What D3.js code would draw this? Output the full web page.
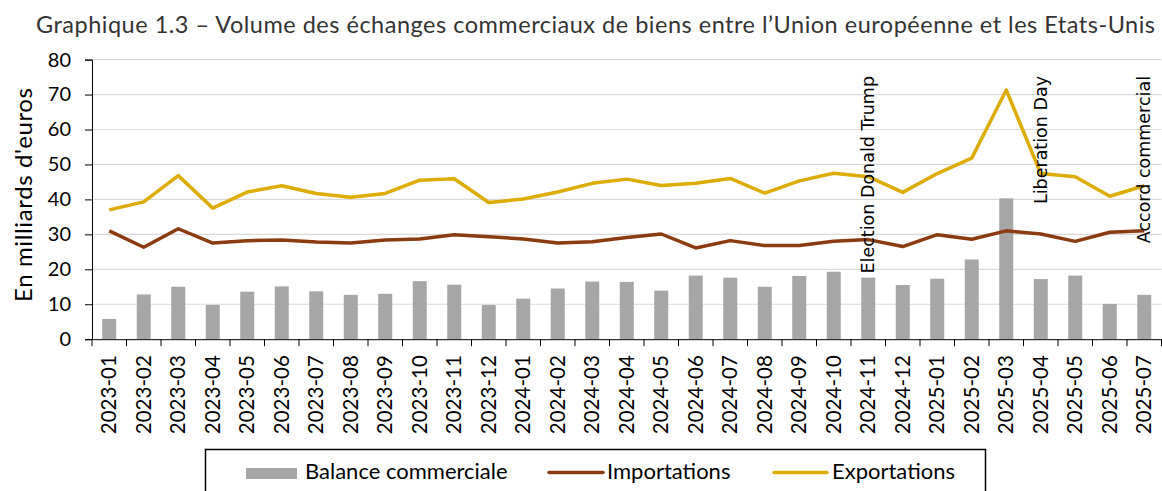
<!DOCTYPE html>
<html>
<head>
<meta charset="utf-8">
<script src="https://cdnjs.cloudflare.com/ajax/libs/d3/7.8.5/d3.min.js"></script>
<style>
  body { margin: 0; background: #fff; }
  svg { display: block; }
</style>
</head>
<body>
<script>
var width = 1162; var height = 491;
var xLeft = 92, xRight = 1161.5, yTop = 59.6, yBottom = 339.2;

// donnees (milliards d'euros)
var mois = ["2023-01","2023-02","2023-03","2023-04","2023-05","2023-06","2023-07","2023-08","2023-09","2023-10","2023-11","2023-12",
            "2024-01","2024-02","2024-03","2024-04","2024-05","2024-06","2024-07","2024-08","2024-09","2024-10","2024-11","2024-12",
            "2025-01","2025-02","2025-03","2025-04","2025-05","2025-06","2025-07"];
var balance = [5.8, 12.8, 15.0, 9.8, 13.6, 15.1, 13.7, 12.7, 13.0, 16.6, 15.6, 9.8,
               11.6, 14.5, 16.5, 16.4, 13.9, 18.2, 17.6, 15.0, 18.1, 19.3, 17.6, 15.5,
               17.3, 22.8, 40.3, 17.2, 18.2, 10.1, 12.7];
var importations = [31.0, 26.3, 31.6, 27.5, 28.2, 28.4, 27.8, 27.5, 28.4, 28.7, 29.9, 29.3,
                    28.7, 27.5, 27.9, 29.1, 30.1, 26.1, 28.2, 26.8, 26.8, 28.0, 28.5, 26.5,
                    29.9, 28.6, 31.0, 30.1, 28.0, 30.6, 31.0];
var exportations = [37.0, 39.3, 46.8, 37.5, 42.1, 43.9, 41.7, 40.6, 41.7, 45.5, 45.9, 39.1,
                    40.1, 42.1, 44.6, 45.8, 44.0, 44.6, 46.0, 41.8, 45.3, 47.5, 46.5, 42.0,
                    47.4, 51.8, 71.3, 47.4, 46.5, 40.9, 43.9];
var yTicks = [0, 10, 20, 30, 40, 50, 60, 70, 80];
var evenements = [{mois: "2024-11", texte: "Election Donald Trump"},
                  {mois: "2025-04", texte: "Liberation Day"},
                  {mois: "2025-07", texte: "Accord commercial"}];
var legende = ["Balance commerciale", "Importations", "Exportations"];

var gris = "#a6a6a6", brun = "#8a3b0f", jaune = "#ddac00";
var police = "Lato, 'Open Sans', sans-serif";

var canvas = d3.select("body").append("svg")
  .attr("width", width)
  .attr("height", height);

var xScale = d3.scaleBand().domain(mois).range([xLeft, xRight]).padding(0);
var yScale = d3.scaleLinear().domain([0, 80]).range([yBottom, yTop]);

// titre
canvas.append("text")
  .attr("x", 36).attr("y", 33)
  .attr("textLength", 1119).attr("lengthAdjust", "spacing")
  .attr("font-family", police).attr("font-size", 23.5)
  .attr("fill", "#333")
  .text("Graphique 1.3 \u2013 Volume des \u00e9changes commerciaux de biens entre l\u2019Union europ\u00e9enne et les Etats-Unis");

// grille
canvas.append("g").selectAll("line")
  .data(yTicks.slice(1))
  .enter().append("line")
  .attr("x1", xLeft).attr("x2", xRight)
  .attr("y1", function(d) { return yScale(d); })
  .attr("y2", function(d) { return yScale(d); })
  .attr("stroke", "#d9d9d9").attr("stroke-width", 1.2);

// barres
canvas.append("g").selectAll("rect")
  .data(balance)
  .enter().append("rect")
  .attr("x", function(d, i) { return xScale(mois[i]) + xScale.bandwidth() / 2 - 7; })
  .attr("width", 14)
  .attr("y", function(d) { return yScale(d); })
  .attr("height", function(d) { return yScale(0) - yScale(d); })
  .attr("fill", gris);

var line = d3.line()
  .x(function(d, i) { return xScale(mois[i]) + xScale.bandwidth() / 2; })
  .y(function(d) { return yScale(d); });

canvas.append("path")
  .attr("d", line(importations))
  .attr("fill", "none").attr("stroke", brun).attr("stroke-width", 3.5).attr("stroke-linejoin", "round");
canvas.append("path")
  .attr("d", line(exportations))
  .attr("fill", "none").attr("stroke", jaune).attr("stroke-width", 3.5).attr("stroke-linejoin", "round");

// axes
var yAxis = d3.axisLeft(yScale).tickValues(yTicks).tickSize(7).tickPadding(14);
var gy = canvas.append("g")
  .attr("transform", "translate(" + xLeft + ",0)")
  .call(yAxis);
gy.selectAll("text").attr("font-family", police).attr("font-size", 20).attr("fill", "#000");
gy.selectAll("line, path").attr("stroke", "#000");

var xAxis = d3.axisBottom(xScale).tickSize(0).tickPadding(0);
var gx = canvas.append("g")
  .attr("transform", "translate(0," + yBottom + ")")
  .call(xAxis);
gx.select("path").attr("stroke", "#000");
gx.selectAll("text")
  .attr("font-family", police).attr("font-size", 20.5).attr("fill", "#000")
  .attr("text-anchor", "end")
  .attr("dy", null)
  .attr("transform", "translate(7,16) rotate(-90)");
// petits traits entre les mois
gx.append("g").selectAll("line")
  .data(mois.concat(["fin"]))
  .enter().append("line")
  .attr("x1", function(d, i) { return xLeft + i * xScale.bandwidth(); })
  .attr("x2", function(d, i) { return xLeft + i * xScale.bandwidth(); })
  .attr("y1", 0).attr("y2", 7)
  .attr("stroke", "#000");

// titre de l'axe y
canvas.append("text")
  .attr("transform", "translate(32,195) rotate(-90)")
  .attr("text-anchor", "middle")
  .attr("textLength", 214).attr("lengthAdjust", "spacing")
  .attr("font-family", police).attr("font-size", 24)
  .text("En milliards d'euros");

// evenements
canvas.append("g").selectAll("text")
  .data(evenements)
  .enter().append("text")
  .attr("transform", function(d) {
    return "translate(" + (xScale(d.mois) + xScale.bandwidth() / 2 + 6) + ",76) rotate(-90)";
  })
  .attr("text-anchor", "end")
  .attr("font-family", "'DejaVu Sans', sans-serif").attr("font-size", 17.5)
  .text(function(d) { return d.texte; });

// legende
var leg = canvas.append("g");
leg.append("rect")
  .attr("x", 205.5).attr("y", 449.5).attr("width", 780).attr("height", 60)
  .attr("fill", "none").attr("stroke", "#000").attr("stroke-width", 1.5);
leg.append("rect")
  .attr("x", 246).attr("y", 468).attr("width", 51).attr("height", 11).attr("fill", gris);
leg.append("line")
  .attr("x1", 549).attr("x2", 603).attr("y1", 472.5).attr("y2", 472.5)
  .attr("stroke", brun).attr("stroke-width", 3.5).attr("stroke-linecap", "round");
leg.append("line")
  .attr("x1", 774).attr("x2", 827).attr("y1", 472.5).attr("y2", 472.5)
  .attr("stroke", jaune).attr("stroke-width", 3.5).attr("stroke-linecap", "round");
leg.selectAll("text.l")
  .data(legende)
  .enter().append("text")
  .attr("class", "l")
  .attr("x", function(d, i) { return [305, 607, 832][i]; })
  .attr("y", 479)
  .attr("font-family", police).attr("font-size", 22)
  .text(function(d) { return d; });
</script>
</body>
</html>
